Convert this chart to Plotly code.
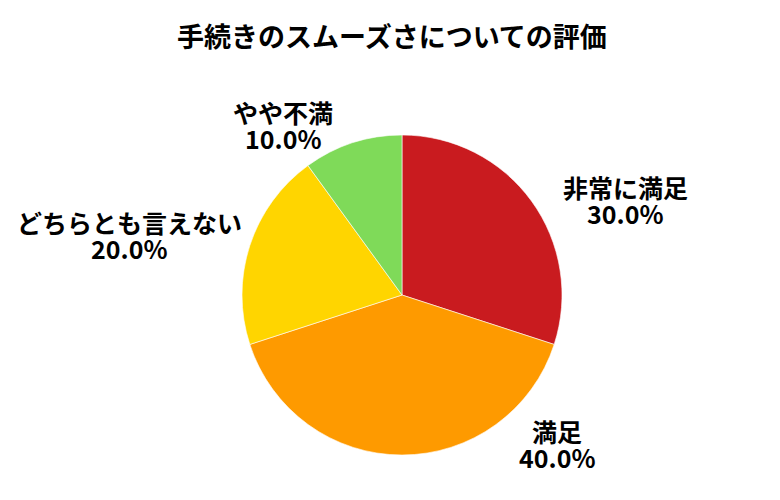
import plotly.graph_objects as go

title_text = "手続きのスムーズさについての評価"
categories = ["非常に満足", "満足", "どちらとも言えない", "やや不満"]
values = [30, 40, 20, 10]
colors = ["#C91B1F", "#FE9A00", "#FFD500", "#7FDA59"]

W, H = 780, 500
FONT = "Noto Sans CJK JP"
OFF = 8  # page body margin in the browser

# label block centers in pixels (style / layout)
label_pos = [(625, 200), (557, 444), (129, 235), (283, 125)]
line_gap = 26

# pie placement in pixels
cx, cy, r = 402 - OFF, 295 - OFF, 160


def px(x):
    return x / W


def py(y):
    return 1 - y / H


fig = go.Figure(go.Pie(
    labels=categories,
    values=values,
    marker=dict(colors=colors, line=dict(color="white", width=0.6)),
    sort=False,
    direction="clockwise",
    rotation=0,
    textinfo="none",
    hoverinfo="label+percent",
    showlegend=False,
    domain=dict(x=[px(cx - r), px(cx + r)], y=[py(cy + r), py(cy - r)]),
))

total = sum(values)
annotations = []
for cat, v, (lx, ly) in zip(categories, values, label_pos):
    pct = v / total * 100
    for text, dy in ((cat, -line_gap / 2), (f"{pct:.1f}%", line_gap / 2)):
        annotations.append(dict(
            x=px(lx - OFF), y=py(ly - OFF + dy), xref="paper", yref="paper",
            text=f"<b>{text}</b>", showarrow=False,
            xanchor="center", yanchor="middle",
            font=dict(family=FONT, size=25, color="#000000"),
        ))

annotations.append(dict(
    x=px(392 - OFF), y=py(35 - OFF), xref="paper", yref="paper",
    text=f"<b>{title_text}</b>", showarrow=False,
    xanchor="center", yanchor="middle",
    font=dict(family=FONT, size=27, color="#000000"),
))

fig.update_layout(
    width=W, height=H,
    margin=dict(l=0, r=0, t=0, b=0),
    paper_bgcolor="white", plot_bgcolor="white",
    annotations=annotations,
    font=dict(family=FONT),
)

fig.write_html("out.html")
